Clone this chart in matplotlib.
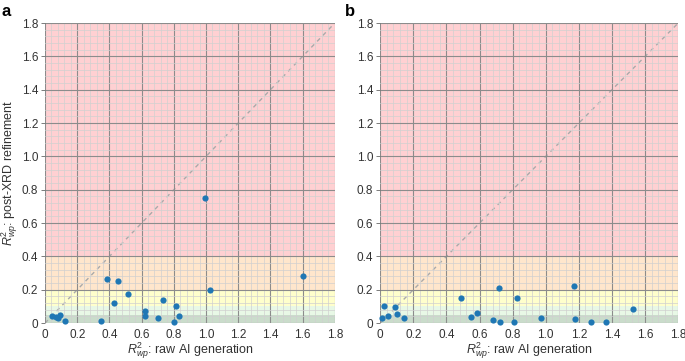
import matplotlib
matplotlib.use("Agg")
import matplotlib.pyplot as plt
from matplotlib.ticker import MultipleLocator, FixedLocator
import numpy as np

plt.rcParams['font.family'] = ['Liberation Sans', 'DejaVu Sans']
plt.rcParams['mathtext.fontset'] = 'custom'
plt.rcParams['mathtext.rm'] = 'Liberation Sans'
plt.rcParams['mathtext.it'] = 'Liberation Sans:italic'

# Panel a data
a_raw = [0.046, 0.07, 0.079, 0.093, 0.124, 0.346, 0.388, 0.456, 0.431, 0.518, 0.62, 0.62,
         0.703, 0.734, 0.811, 0.803, 0.832, 0.993, 1.027, 1.601]
a_ref = [0.040, 0.036, 0.028, 0.050, 0.012, 0.010, 0.264, 0.250, 0.120, 0.174, 0.070, 0.044,
         0.028, 0.138, 0.100, 0.004, 0.042, 0.748, 0.198, 0.282]

# Panel b data
b_raw = [0.010, 0.022, 0.046, 0.090, 0.104, 0.146, 0.488, 0.546, 0.584, 0.680, 0.718, 0.726,
         0.807, 0.829, 0.973, 1.170, 1.174, 1.274, 1.365, 1.525]
b_ref = [0.030, 0.104, 0.044, 0.094, 0.054, 0.032, 0.152, 0.034, 0.062, 0.018, 0.208, 0.004,
         0.004, 0.148, 0.030, 0.224, 0.026, 0.004, 0.004, 0.086]

bands = [(0.0, 0.05, '#cadccb'), (0.05, 0.1, '#e8f8e6'), (0.1, 0.2, '#ffffcc'),
         (0.2, 0.4, '#ffe6cc'), (0.4, 1.8, '#ffd0d2')]
ticks = [0, 0.2, 0.4, 0.6, 0.8, 1.0, 1.2, 1.4, 1.6, 1.8]
tick_labels = ['0', '0.2', '0.4', '0.6', '0.8', '1.0', '1.2', '1.4', '1.6', '1.8']

fig = plt.figure(figsize=(6.85, 3.61), dpi=100)
ax_a = fig.add_axes([0.0657, 0.105, 0.423, 0.831])
ax_b = fig.add_axes([0.555, 0.105, 0.435, 0.831])

for ax, xs, ys, lab in [(ax_a, a_raw, a_ref, 'a'), (ax_b, b_raw, b_ref, 'b')]:
    ax.set_xlim(0, 1.8)
    ax.set_ylim(0, 1.8)
    for lo, hi, c in bands:
        ax.axhspan(lo, hi, color=c, zorder=0, lw=0)
    ax.xaxis.set_major_locator(FixedLocator(ticks))
    ax.yaxis.set_major_locator(FixedLocator(ticks))
    ax.set_xticklabels(tick_labels)
    ax.set_yticklabels(tick_labels)
    ax.xaxis.set_minor_locator(MultipleLocator(0.04))
    ax.yaxis.set_minor_locator(MultipleLocator(0.04))
    ax.grid(which='minor', color='#d0d0d0', lw=0.5, zorder=1)
    ax.grid(which='major', color='#8c8c8c', lw=0.8, zorder=1)
    ax.tick_params(which='minor', length=0)
    ax.tick_params(which='major', length=3, width=0.6, color='#666666',
                   labelsize=8.5, labelcolor='#333333', pad=2)
    ax.tick_params(axis='x', length=0, pad=4)
    for s in ax.spines.values():
        s.set_visible(False)
    ax.plot([0, 1.8], [0, 1.8], ls=(0, (3, 3)), color='#aaaaaa', lw=1.0, zorder=2)
    ax.scatter(xs, ys, s=20, color='#1f77b4', zorder=3, clip_on=False, linewidths=0)
    ax.set_xlabel(r'$R^2_{wp}$: raw AI generation', fontsize=9, color='#333333', labelpad=0)
    ax.set_axisbelow(False)

ax_a.set_ylabel(r'$R^2_{wp}$: post-XRD refinement', fontsize=9, color='#333333', labelpad=1)
fig.text(0.002, 0.99, 'a', fontsize=12, fontweight='bold', va='top', ha='left')
fig.text(0.503, 0.99, 'b', fontsize=12, fontweight='bold', va='top', ha='left')

fig.savefig('out.png', dpi=100)
